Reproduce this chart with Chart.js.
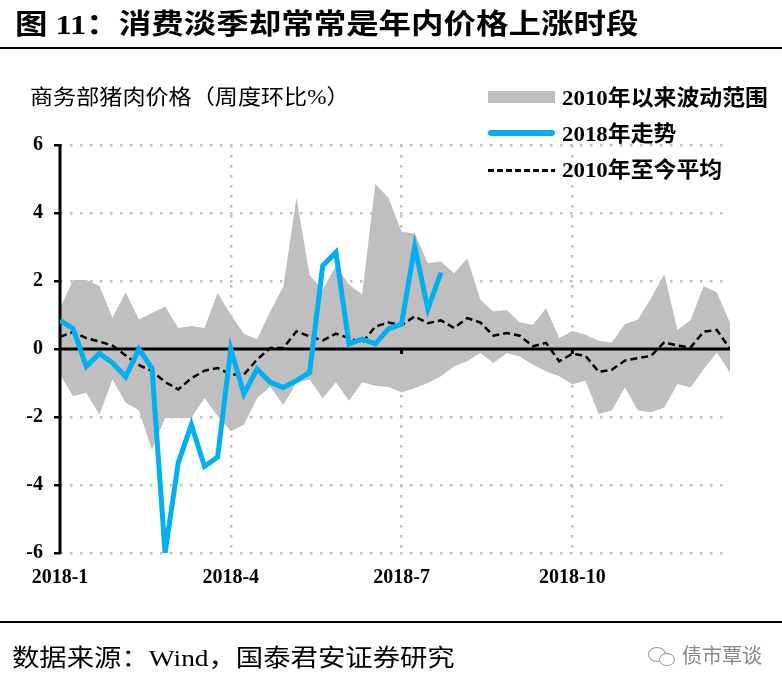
<!DOCTYPE html>
<html>
<head>
<meta charset="utf-8">
<script src="https://cdn.jsdelivr.net/npm/chart.js@4.4.1/dist/chart.umd.min.js"></script>
<style>
  body { margin: 0; background: #fff; }
  #wrap { position: relative; width: 782px; height: 687px; overflow: hidden; }
  #chart { position: absolute; left: 0; top: 0; }
  .txt { position: absolute; white-space: nowrap; transform-origin: left center;
         font-family: "Liberation Serif", "Noto Sans CJK SC", serif; color: #000; }
  .rule { position: absolute; left: 0; width: 782px; height: 2px; background: #000; }
</style>
</head>
<body>
<div id="wrap">
  <canvas id="chart" width="782" height="687"></canvas>
  <div class="txt" style="left:15px;top:11px;font-size:28px;line-height:28px;font-weight:bold;transform:scaleX(1.16)">图 11：消费淡季却常常是年内价格上涨时段</div>
  <div class="rule" style="top:47px"></div>
  <div class="txt" style="left:30px;top:87px;font-size:21px;line-height:21px;transform:scaleX(1.1)">商务部猪肉价格（周度环比%）</div>

  <div style="position:absolute;left:488px;top:91px;width:67px;height:12px;background:#bfbfbf"></div>
  <div class="txt" style="left:562px;top:87px;font-size:22px;line-height:22px;font-weight:bold;transform:scaleX(1.04)">2010年以来波动范围</div>
  <div style="position:absolute;left:488px;top:130px;width:67px;height:6px;border-radius:3px;background:#00b0f0"></div>
  <div class="txt" style="left:562px;top:123px;font-size:22px;line-height:22px;font-weight:bold;transform:scaleX(1.04)">2018年走势</div>
  <div style="position:absolute;left:488px;top:169px;width:67px;height:3px;background:repeating-linear-gradient(to right,#000 0 6px,transparent 6px 9px)"></div>
  <div class="txt" style="left:562px;top:159px;font-size:22px;line-height:22px;font-weight:bold;transform:scaleX(1.04)">2010年至今平均</div>

  <div class="rule" style="top:621px"></div>
  <div class="txt" style="left:12px;top:646px;font-size:24px;line-height:24px;transform:scaleX(1.14)">数据来源：Wind，国泰君安证券研究</div>
  <div style="position:absolute;left:648px;top:647px;width:16px;height:13px;border:1.5px solid #999;border-radius:50%"></div>
  <div style="position:absolute;left:659px;top:653px;width:14px;height:11px;border:1.5px solid #999;border-radius:50%;background:#fff"></div>
  <div class="txt" style="left:682px;top:645px;font-size:20px;line-height:20px;color:#888;font-family:'Noto Sans CJK SC'">债市覃谈</div>
</div>
<script>
// weeks of 2018 (x positions)
const weeks = [1, 2, 3, 4, 5, 6, 7, 8, 9, 10, 11, 12, 13, 14, 15, 16, 17, 18, 19, 20, 21, 22, 23, 24, 25, 26,
  27, 28, 29, 30, 31, 32, 33, 34, 35, 36, 37, 38, 39, 40, 41, 42, 43, 44, 45, 46, 47, 48, 49, 50, 51, 52];
const quarterWeeks = [1, 14, 27, 40];
const quarterLabels = ["2018-1", "2018-4", "2018-7", "2018-10"];

// 2010年以来波动范围 (upper / lower edge)
const rangeHigh = [1.2, 2.03, 2.03, 1.85, 0.92, 1.67, 0.87, 1.06, 1.25, 0.62, 0.68, 0.62, 1.65, 1.0,
  0.45, 0.29, 1.1, 1.84, 4.45, 2.17, 1.75, 2.45, 1.9, 1.6, 4.85, 4.45, 3.45, 3.4, 2.52, 2.57, 2.23, 2.67,
  1.45, 1.1, 1.15, 0.78, 0.71, 1.2, 0.32, 0.53, 0.42, 0.24, 0.19, 0.73, 0.87, 1.5, 2.2, 0.56, 0.85, 1.85, 1.66, 0.77];
const rangeLow = [-0.75, -1.39, -1.29, -1.93, -0.9, -1.58, -1.8, -2.96, -2.03, -2.03, -2.03, -1.44, -1.98, -2.42,
  -2.23, -1.45, -1.1, -1.65, -1.0, -0.9, -1.45, -0.98, -1.52, -0.98, -1.08, -1.12, -1.28, -1.15, -1.0, -0.8,
  -0.51, -0.36, -0.12, -0.41, -0.12, -0.22, -0.46, -0.66, -0.8, -1.04, -0.93, -1.91, -1.81, -1.13, -1.81,
  -1.86, -1.72, -1.03, -1.13, -0.59, -0.1, -0.69];

// 2018年走势
const trend2018 = [0.84, 0.6, -0.51, -0.13, -0.41, -0.82, 0.0, -0.56, -6.0, -3.35, -2.23, -3.45, -3.18, 0.0,
  -1.32, -0.59, -0.98, -1.13, -0.93, -0.69, 2.45, 2.84, 0.15, 0.29, 0.15, 0.59, 0.73, 3.02, 1.18, 2.25];

// 2010年至今平均
const avgSince2010 = [0.36, 0.5, 0.32, 0.22, 0.1, -0.19, -0.47, -0.65, -0.97, -1.19, -0.86, -0.64, -0.56, -0.75,
  -0.75, -0.31, 0.03, 0.03, 0.52, 0.37, 0.25, 0.45, 0.32, 0.18, 0.66, 0.78, 0.7, 0.96, 0.76, 0.84, 0.62, 0.91,
  0.78, 0.39, 0.47, 0.39, 0.08, 0.18, -0.36, -0.14, -0.2, -0.67, -0.61, -0.34, -0.27, -0.2, 0.2, 0.1, 0.05,
  0.51, 0.56, 0.0];

const dotted = [2.5, 7.5];
const gridGrey = "#c0c0c0";

const axisLines = {
  id: "axisLines",
  afterDatasetDraw(chart, args) {
    if (args.index !== 2) return;
    const { ctx, chartArea, scales: { x, y } } = chart;
    const y0 = y.getPixelForValue(0);
    ctx.save();
    ctx.strokeStyle = "#000";
    ctx.lineWidth = 3;
    ctx.beginPath();
    ctx.moveTo(chartArea.left, y0);
    ctx.lineTo(chartArea.right, y0);
    ctx.stroke();
    quarterWeeks.slice(2).forEach(function (w) {
      const px = x.getPixelForValue(w);
      ctx.beginPath();
      ctx.moveTo(px, y0);
      ctx.lineTo(px, y0 + 5);
      ctx.stroke();
    });
    ctx.beginPath();
    ctx.moveTo(chartArea.left, chartArea.top - 1);
    ctx.lineTo(chartArea.left, chartArea.bottom + 1);
    ctx.stroke();
    ctx.restore();
  },
};

new Chart(document.getElementById("chart"), {
  type: "line",
  data: {
    labels: weeks,
    datasets: [
      {
        data: trend2018,
        borderColor: "#00b0f0",
        borderWidth: 5,
        borderJoinStyle: "miter",
        pointRadius: 0,
        fill: false,
      },
      {
        data: avgSince2010,
        borderColor: "#000",
        borderWidth: 2.5,
        borderDash: [7, 4],
        pointRadius: 0,
        fill: false,
      },
      {
        data: rangeHigh,
        borderWidth: 0,
        borderColor: "rgba(0,0,0,0)",
        backgroundColor: "#bfbfbf",
        pointRadius: 0,
        fill: "+1",
      },
      {
        data: rangeLow,
        borderWidth: 0,
        borderColor: "rgba(0,0,0,0)",
        pointRadius: 0,
        fill: false,
      },
    ],
  },
  options: {
    responsive: false,
    animation: false,
    devicePixelRatio: 1,
    layout: { padding: { left: 0, right: 52, top: 145, bottom: 94 } },
    plugins: { legend: { display: false }, tooltip: { enabled: false } },
    scales: {
      x: {
        type: "linear",
        min: 1,
        max: 52,
        afterBuildTicks: function (scale) {
          scale.ticks = quarterWeeks.map((v) => ({ value: v }));
        },
        afterFit: function (scale) {
          scale.height = 40;
        },
        ticks: {
          autoSkip: false,
          maxRotation: 0,
          padding: 13,
          color: "#000",
          font: { family: "Liberation Serif", size: 20, weight: "bold" },
          callback: (v) => quarterLabels[quarterWeeks.indexOf(v)],
        },
        grid: {
          drawTicks: false,
          lineWidth: 2.5,
          color: (c) => (c.index === 0 ? "rgba(0,0,0,0)" : gridGrey),
        },
        border: { display: false, dash: dotted },
      },
      y: {
        min: -6,
        max: 6,
        afterFit: function (scale) {
          scale.width = 60;
        },
        ticks: {
          stepSize: 2,
          padding: 11,
          color: "#000",
          font: { family: "Liberation Serif", size: 20, weight: "bold" },
        },
        grid: {
          lineWidth: 2.5,
          color: (c) => (c.tick && c.tick.value === 0 ? "rgba(0,0,0,0)" : gridGrey),
          drawTicks: true,
          tickLength: 6,
          tickColor: "#000",
          tickWidth: 2.5,
          tickBorderDash: [],
        },
        border: { display: false, dash: dotted },
      },
    },
  },
  plugins: [axisLines],
});
</script>
</body>
</html>
